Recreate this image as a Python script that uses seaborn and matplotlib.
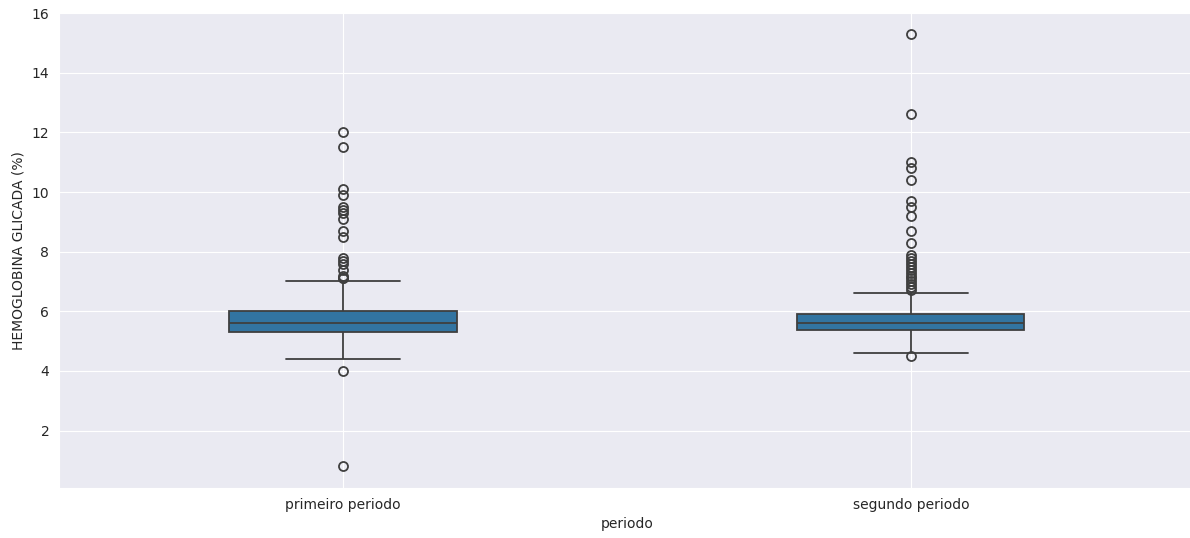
import numpy as np
import pandas as pd
import matplotlib
matplotlib.use('Agg')
import matplotlib.pyplot as plt
import seaborn as sns

# Values (value, how many times it occurs)
periodos = ['primeiro periodo', 'segundo periodo']

primeiro_valores = [0.8, 4.0, 4.4, 4.9, 5.3, 5.6, 6.0, 6.5, 7.0,
                    7.1, 7.2, 7.4, 7.6, 7.7, 7.8, 8.5, 8.7, 9.1, 9.3,
                    9.4, 9.5, 9.9, 10.1, 11.5, 12.0]
primeiro_contagens = [1, 1, 1, 10, 30, 40, 30, 10, 1,
                      2, 1, 1, 1, 1, 1, 1, 1, 1, 1,
                      1, 1, 1, 1, 1, 1]

segundo_valores = [4.5, 4.6, 5.0, 5.37, 5.6, 5.9, 6.2, 6.6,
                   6.7, 6.8, 6.9, 7.0, 7.1, 7.2, 7.3, 7.4, 7.5, 7.6,
                   7.7, 7.8, 7.9, 8.3, 8.7, 9.2, 9.5, 9.7, 10.4, 10.8,
                   11.0, 12.6, 15.3]
segundo_contagens = [1, 1, 10, 30, 40, 30, 10, 1,
                     1, 1, 1, 1, 1, 1, 1, 1, 1, 1,
                     1, 1, 1, 1, 1, 1, 1, 1, 1, 1,
                     1, 1, 1]


def expand(values, counts):
    return np.repeat(values, counts)


def main():
    sns.set_style('darkgrid')

    df = pd.DataFrame({
        'periodo': [periodos[0]] * sum(primeiro_contagens)
                   + [periodos[1]] * sum(segundo_contagens),
        'HEMOGLOBINA GLICADA (%)': np.concatenate([
            expand(primeiro_valores, primeiro_contagens),
            expand(segundo_valores, segundo_contagens)]),
    })

    fig, ax = plt.subplots(figsize=(11.9, 5.38), dpi=100)
    sns.boxplot(data=df, x='periodo', y='HEMOGLOBINA GLICADA (%)',
                order=periodos, width=0.4, linewidth=1.3,
                flierprops={'markersize': 6.5, 'markeredgewidth': 1.3}, ax=ax)
    ax.grid(True, axis='x')

    # the original picture is cropped at the right edge of the axes
    fig.subplots_adjust(left=0.0496, right=1.004, top=0.977, bottom=0.093)
    fig.savefig('out.png', dpi=100)


if __name__ == "__main__":
    main()
